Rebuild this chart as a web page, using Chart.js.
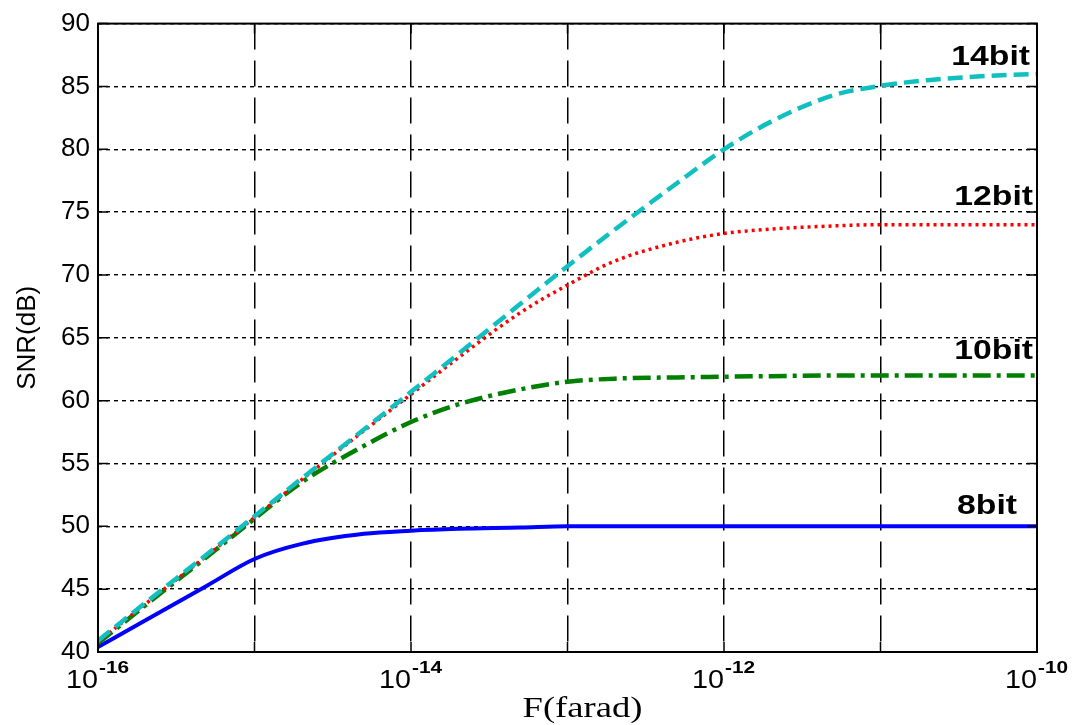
<!DOCTYPE html>
<html>
<head>
<meta charset="utf-8">
<script src="https://cdn.jsdelivr.net/npm/chart.js@4"></script>
<style>
  body { margin: 0; background: #fff; }
  canvas { display: block; }
</style>
</head>
<body>
<canvas id="myChart" width="1074" height="725"></canvas>
<script>
// capacitancia (F) y SNR (dB)
const capacidad = [1e-16, 2e-16, 5e-16, 1e-15, 2e-15, 5e-15, 1e-14, 2e-14, 5e-14, 1e-13,
                   2e-13, 5e-13, 1e-12, 2e-12, 5e-12, 1e-11, 2e-11, 5e-11, 1e-10];
const snr14 = [40.9, 43.9, 47.8, 50.8, 53.8, 57.7, 60.7, 63.7, 67.7, 70.7,
               73.6, 77.3, 80.0, 82.2, 84.3, 85.05, 85.5, 85.85, 86.0];
const snr12 = [40.8, 43.8, 47.7, 50.7, 53.7, 57.6, 60.5, 63.4, 67.0, 69.2,
               71.1, 72.6, 73.3, 73.65, 73.9, 74.0, 74.0, 74.0, 74.0];
const snr10 = [40.7, 43.7, 47.6, 50.6, 53.5, 56.4, 58.3, 59.7, 60.9, 61.5,
               61.75, 61.85, 61.9, 61.95, 62.0, 62.0, 62.0, 62.0, 62.0];
const snr8 = [40.4, 42.5, 45.3, 47.4, 48.6, 49.4, 49.65, 49.8, 49.9, 50.0,
              50.0, 50.0, 50.0, 50.0, 50.0, 50.0, 50.0, 50.0, 50.0];
const etiquetas = ['14bit', '12bit', '10bit', '8bit'];
const decadas = [1e-16, 1e-15, 1e-14, 1e-13, 1e-12, 1e-11, 1e-10];
const ticksY = [40, 45, 50, 55, 60, 65, 70, 75, 80, 85, 90];

function puntos(ys) {
  return capacidad.map((x, i) => ({ x: x, y: ys[i] }));
}

// texto estirado en horizontal, como en la figura original
function texto(ctx, t, x, y, font, align, sx) {
  ctx.save();
  ctx.font = font;
  ctx.fillStyle = '#000';
  ctx.textBaseline = 'alphabetic';
  const w = ctx.measureText(t).width * sx;
  let x0 = x;
  if (align === 'right') x0 = x - w;
  if (align === 'center') x0 = x - w / 2;
  ctx.translate(x0, y);
  ctx.scale(sx, 1);
  ctx.fillText(t, 0, 0);
  ctx.restore();
}

const marco = {
  id: 'marco',
  afterDatasetsDraw(chart) {
    const { ctx, chartArea: a, scales } = chart;
    ctx.save();
    ctx.strokeStyle = '#000';
    ctx.lineWidth = 1.5;
    ctx.setLineDash([]);
    ctx.beginPath();
    // marcas hacia adentro
    ticksY.forEach(v => {
      const y = scales.y.getPixelForValue(v);
      ctx.moveTo(a.left, y); ctx.lineTo(a.left + 10, y);
      ctx.moveTo(a.right, y); ctx.lineTo(a.right - 10, y);
    });
    decadas.forEach(v => {
      const x = scales.x.getPixelForValue(v);
      ctx.moveTo(x, a.bottom); ctx.lineTo(x, a.bottom - 10);
      ctx.moveTo(x, a.top); ctx.lineTo(x, a.top + 10);
    });
    ctx.stroke();
    ctx.lineWidth = 2;
    ctx.strokeRect(a.left, a.top, a.right - a.left, a.bottom - a.top);
    ctx.restore();
  },
  afterDraw(chart) {
    const { ctx, chartArea: a, scales } = chart;
    // etiquetas del eje x con exponente
    decadas.forEach(v => {
      const e = Math.round(Math.log10(v));
      if (e % 2 !== 0) return;
      const x = scales.x.getPixelForValue(v);
      texto(ctx, '10', x, 688, '25px "Liberation Sans", Arial, sans-serif', 'right', 1.15);
      texto(ctx, String(e), x + 1, 673, 'bold 16px "Liberation Sans", Arial, sans-serif', 'left', 1.3);
    });
    // titulos de ejes
    texto(ctx, 'F(farad)', (a.left + a.right) / 2 + 15, 717, '30px "Liberation Serif", "Times New Roman", serif', 'center', 1.22);
    ctx.save();
    ctx.translate(35, (a.top + a.bottom) / 2);
    ctx.rotate(-Math.PI / 2);
    texto(ctx, 'SNR(dB)', 0, 0, '26px "Liberation Sans", Arial, sans-serif', 'center', 1.0);
    ctx.restore();
    // nombres de las curvas
    const posY = [86.7, 75.6, 63.3, 51.0];
    const derecha = [a.right - 7, a.right - 4, a.right - 4, a.right - 20];
    etiquetas.forEach((t, i) => {
      texto(ctx, t, derecha[i], scales.y.getPixelForValue(posY[i]), 'bold 27px "Liberation Sans", Arial, sans-serif', 'right', 1.25);
    });
  }
};

const ctx = document.getElementById('myChart').getContext('2d');
const myChart = new Chart(ctx, {
  type: 'line',
  data: {
    datasets: [
      { label: etiquetas[0], data: puntos(snr14), borderColor: '#10c0c0', borderWidth: 4.5, borderDash: [15, 7] },
      { label: etiquetas[1], data: puntos(snr12), borderColor: '#ff0000', borderWidth: 3.5, borderDash: [3, 4] },
      { label: etiquetas[2], data: puntos(snr10), borderColor: '#008000', borderWidth: 4.5, borderDash: [18, 6, 4, 6] },
      { label: etiquetas[3], data: puntos(snr8), borderColor: '#0000ff', borderWidth: 4 }
    ]
  },
  options: {
    responsive: false,
    animation: false,
    layout: { padding: { left: 0, right: 37, top: 20, bottom: 0 } },
    elements: {
      point: { radius: 0 },
      line: { cubicInterpolationMode: 'monotone', fill: false }
    },
    plugins: {
      legend: { display: false },
      tooltip: { enabled: false }
    },
    scales: {
      x: {
        type: 'logarithmic',
        min: 1e-16,
        max: 1e-10,
        afterBuildTicks: scale => { scale.ticks = decadas.map(v => ({ value: v })); },
        afterFit: scale => { scale.height = 73; },
        ticks: { display: false },
        grid: { color: '#000', lineWidth: 1.5, drawTicks: false },
        border: { display: false, dash: [26, 11] }
      },
      y: {
        min: 40,
        max: 90,
        afterBuildTicks: scale => { scale.ticks = ticksY.map(v => ({ value: v })); },
        afterFit: scale => { scale.width = 98; },
        ticks: {
          color: '#000',
          padding: 8,
          font: { family: '"Liberation Sans", Arial, sans-serif', size: 26 }
        },
        grid: { color: '#000', lineWidth: 1.4, drawTicks: false },
        border: { display: false, dash: [4, 4] }
      }
    }
  },
  plugins: [marco]
});
</script>
</body>
</html>
